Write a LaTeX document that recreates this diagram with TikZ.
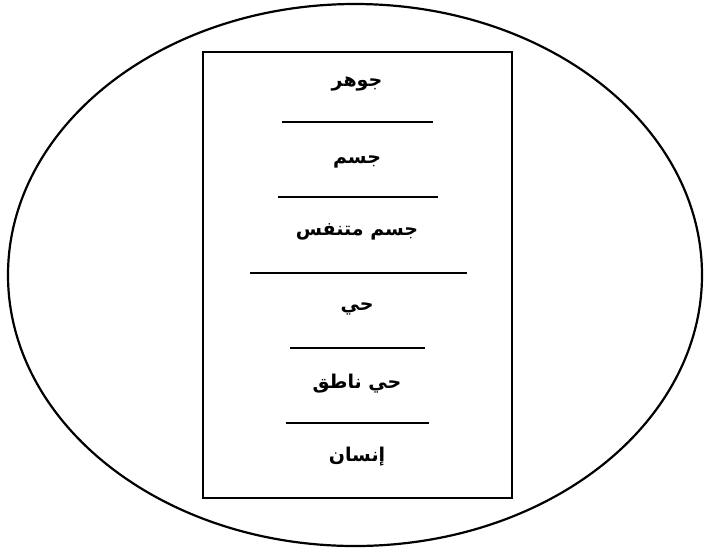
\documentclass[tikz,border=0pt]{standalone}
\usepackage{fontspec}
\newfontfamily\arabicfont[Script=Arabic]{DejaVu Sans}
\TeXXeTstate=1
\begin{document}
\begin{tikzpicture}[x=1pt,y=-1pt,
  lbl/.style={font=\arabicfont\bfseries\fontsize{19}{22}\selectfont, inner sep=0pt, anchor=center},
  sepline/.style={line width=2.8pt},
  frame/.style={line width=2.8pt}]
\useasboundingbox (0,0) rectangle (705,550);
\draw[line width=2.2pt] (355,275) ellipse [x radius=347, y radius=271];
\draw[frame] (203,52) rectangle (512,498);
\node[lbl] (t1) at (357,84) {\beginR جوهر\endR};
\node[lbl] (t2) at (357,162) {\beginR جسم\endR};
\node[lbl] (t3) at (357,232) {\beginR جسم متنفس\endR};
\node[lbl] (t4) at (357,309) {\beginR حي\endR};
\node[lbl] (t5) at (357,384) {\beginR حي ناطق\endR};
\node[lbl] (t6) at (357,457) {\beginR إنسان\endR};
\draw[sepline] (282,122) -- (433,122);
\draw[sepline] (278,197) -- (438,197);
\draw[sepline] (250,273) -- (467,273);
\draw[sepline] (290,348) -- (425,348);
\draw[sepline] (286,423) -- (429,423);
\end{tikzpicture}
\end{document}
